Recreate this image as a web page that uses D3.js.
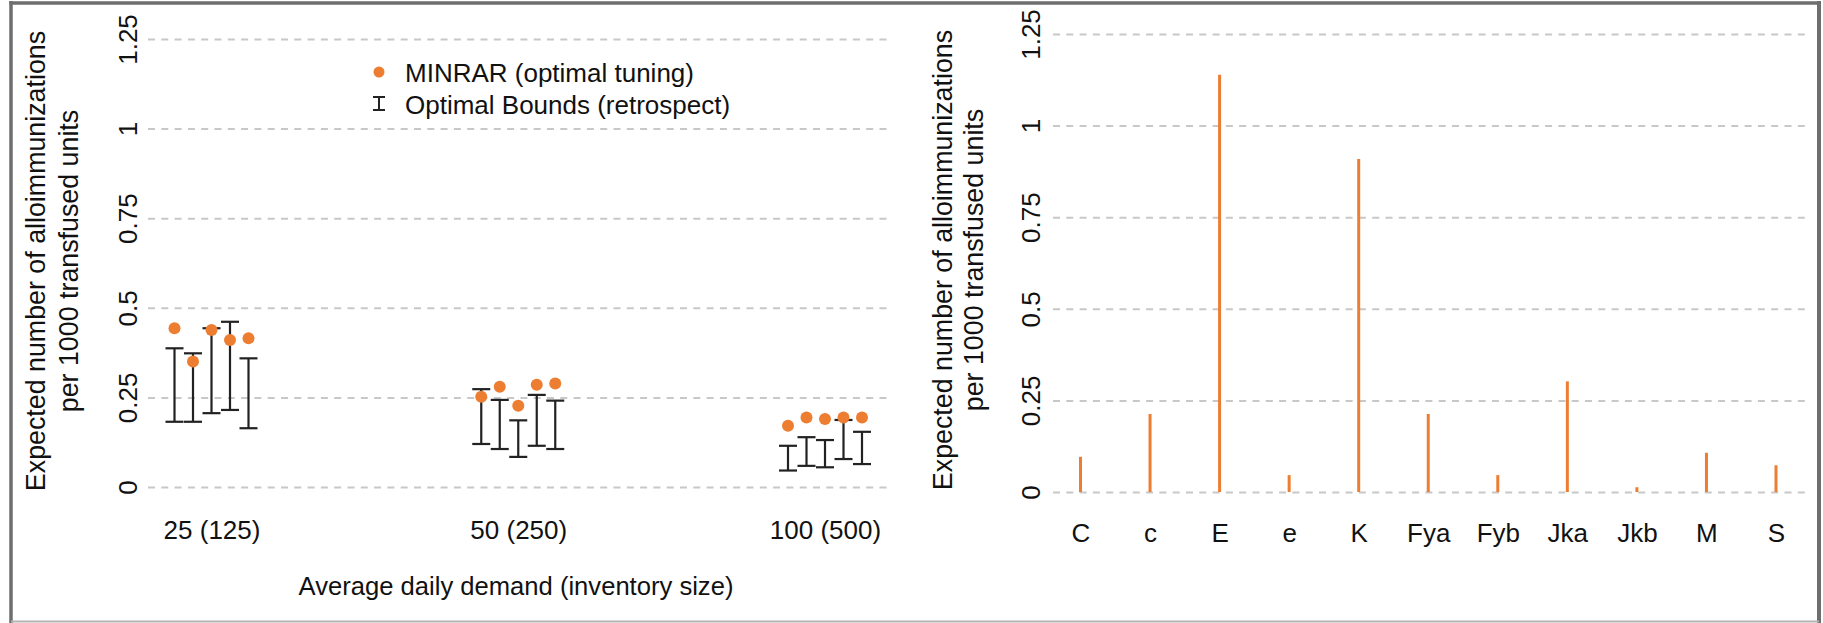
<!DOCTYPE html>
<html>
<head>
<meta charset="utf-8">
<script src="https://cdn.jsdelivr.net/npm/d3@7"></script>
<style>
  html, body { margin: 0; padding: 0; background: #fff; }
  svg { display: block; font-family: "Liberation Sans", Arial, sans-serif; }
</style>
</head>
<body>
<svg id="chart" width="1823" height="623"></svg>
<script>
// ---------- data ----------
const demandGroups = ["25 (125)", "50 (250)", "100 (500)"];
const yTicks = [0, 0.25, 0.5, 0.75, 1, 1.25];
const yTickLabels = ["0", "0.25", "0.5", "0.75", "1", "1.25"];
// MINRAR (optimal tuning), five settings per demand group
const minrar25 = [0.443, 0.350, 0.438, 0.410, 0.415];
const minrar50 = [0.252, 0.280, 0.227, 0.285, 0.289];
const minrar100 = [0.171, 0.194, 0.190, 0.194, 0.194];
// Optimal bounds (retrospect): lower and upper
const lower25 = [0.182, 0.182, 0.206, 0.215, 0.164];
const upper25 = [0.387, 0.373, 0.443, 0.461, 0.359];
const lower50 = [0.120, 0.106, 0.084, 0.115, 0.106];
const upper50 = [0.273, 0.243, 0.186, 0.257, 0.241];
const lower100 = [0.046, 0.059, 0.055, 0.078, 0.064];
const upper100 = [0.115, 0.139, 0.131, 0.187, 0.154];
// right panel
const antigens = ["C", "c", "E", "e", "K", "Fya", "Fyb", "Jka", "Jkb", "M", "S"];
const antigenRates = [0.096, 0.213, 1.139, 0.046, 0.909, 0.213, 0.046, 0.302, 0.013, 0.107, 0.073];

const yTitle1 = "Expected number of alloimmunizations";
const yTitle2 = "per 1000 transfused units";
const xTitleLeft = "Average daily demand (inventory size)";

// ---------- build ----------
const ORANGE = "#ED7D31";
const DARK = "#222222";
const GRID = "#c8c8c8";
const svg = d3.select("#chart");
svg.append("rect").attr("width", 1823).attr("height", 623).attr("fill", "#fff");

const minrarAll = [minrar25, minrar50, minrar100];
const lowerAll = [lower25, lower50, lower100];
const upperAll = [upper25, upper50, upper100];
const pts = [];
demandGroups.forEach((g, gi) => {
  minrarAll[gi].forEach((v, k) => {
    pts.push({ group: g, idx: k - 2, value: v, lo: lowerAll[gi][k], hi: upperAll[gi][k] });
  });
});

// ----- left panel -----
const L = { x0: 148, x1: 888 };
const yL = d3.scaleLinear().domain([0, 1.25]).range([487, 39]);
const xL = d3.scalePoint().domain(demandGroups).range([211.5, 825]);
const off = d3.scaleLinear().domain([-2, 2]).range([-37, 37]);

function yAxisGrid(g, scale, x0, x1, labelShift) {
  const ax = d3.axisLeft(scale).tickValues(yTicks)
    .tickFormat((d, i) => yTickLabels[i]).tickSize(-(x1 - x0)).tickPadding(0);
  g.attr("transform", `translate(${x0},0)`).call(ax);
  g.select(".domain").remove();
  g.selectAll(".tick line").attr("stroke", GRID).attr("stroke-width", 2)
    .attr("stroke-dasharray", "7,6.3");
  g.selectAll(".tick text")
    .attr("x", null).attr("dy", null).attr("y", null)
    .attr("text-anchor", "middle")
    .attr("transform", `translate(${labelShift},0) rotate(-90)`)
    .attr("fill", "#111").style("font-size", "26px")
    .style("font-family", '"Liberation Sans", Arial, sans-serif');
}

yAxisGrid(svg.append("g"), yL, L.x0, L.x1, -11);

const xAxL = svg.append("g").call(d3.axisBottom(xL).tickSize(0));
xAxL.select(".domain").remove();
xAxL.selectAll(".tick text").attr("y", 539).attr("dy", null)
  .attr("fill", "#111").style("font-size", "26px")
  .style("font-family", '"Liberation Sans", Arial, sans-serif');

// error bars
const eb = svg.append("g").attr("stroke", DARK).attr("stroke-width", 2.2).attr("fill", "none");
const cap = 9;
pts.forEach(p => {
  const cx = xL(p.group) + off(p.idx);
  eb.append("line").attr("x1", cx).attr("x2", cx).attr("y1", yL(p.lo)).attr("y2", yL(p.hi));
  eb.append("line").attr("x1", cx - cap).attr("x2", cx + cap).attr("y1", yL(p.lo)).attr("y2", yL(p.lo));
  eb.append("line").attr("x1", cx - cap).attr("x2", cx + cap).attr("y1", yL(p.hi)).attr("y2", yL(p.hi));
});
// points
svg.append("g").selectAll("circle").data(pts).join("circle")
  .attr("cx", p => xL(p.group) + off(p.idx)).attr("cy", p => yL(p.value))
  .attr("r", 6).attr("fill", ORANGE);

// legend
const lg = svg.append("g");
lg.append("circle").attr("cx", 379).attr("cy", 72).attr("r", 5.5).attr("fill", ORANGE);
lg.append("text").attr("x", 405).attr("y", 82).text("MINRAR (optimal tuning)")
  .attr("fill", "#111").style("font-size", "26px");
const li = lg.append("g").attr("stroke", DARK).attr("stroke-width", 2);
li.append("line").attr("x1", 379).attr("x2", 379).attr("y1", 97).attr("y2", 110);
li.append("line").attr("x1", 373).attr("x2", 385).attr("y1", 97).attr("y2", 97);
li.append("line").attr("x1", 373).attr("x2", 385).attr("y1", 110).attr("y2", 110);
lg.append("text").attr("x", 405).attr("y", 114).text("Optimal Bounds (retrospect)")
  .attr("fill", "#111").style("font-size", "26px");

// axis titles left
function yTitle(cx1, cx2, cy) {
  const t = svg.append("g").attr("fill", "#111").style("font-size", "26.8px").attr("text-anchor", "middle");
  t.append("text").attr("transform", `translate(${cx1},${cy}) rotate(-90)`).text(yTitle1);
  t.append("text").attr("transform", `translate(${cx2},${cy}) rotate(-90)`).text(yTitle2);
}
yTitle(45, 78, 261);
svg.append("text").attr("x", 516).attr("y", 595).attr("text-anchor", "middle")
  .attr("fill", "#111").style("font-size", "25.6px").text(xTitleLeft);

// ----- right panel -----
const R = { x0: 1053, x1: 1805 };
const yR = d3.scaleLinear().domain([0, 1.25]).range([492, 34]);
const xR = d3.scalePoint().domain(antigens).range([1080.5, 1776]);
yAxisGrid(svg.append("g"), yR, R.x0, R.x1, -13);

const xAxR = svg.append("g").call(d3.axisBottom(xR).tickSize(0));
xAxR.select(".domain").remove();
xAxR.selectAll(".tick text").attr("y", 542).attr("dy", null)
  .attr("fill", "#111").style("font-size", "26px")
  .style("font-family", '"Liberation Sans", Arial, sans-serif');

svg.append("g").selectAll("line").data(antigens).join("line")
  .attr("x1", d => xR(d)).attr("x2", d => xR(d))
  .attr("y1", yR(0)).attr("y2", (d, i) => yR(antigenRates[i]))
  .attr("stroke", ORANGE).attr("stroke-width", 3);

yTitle(952, 983, 260);

// ----- frame -----
const fr = svg.append("g").attr("fill", "none");
fr.append("line").attr("x1", 9.5).attr("x2", 1820).attr("y1", 3).attr("y2", 3).attr("stroke", "#6e6e6e").attr("stroke-width", 3.5);
fr.append("line").attr("x1", 11).attr("x2", 11).attr("y1", 1).attr("y2", 623).attr("stroke", "#6e6e6e").attr("stroke-width", 3.5);
fr.append("line").attr("x1", 1819).attr("x2", 1819).attr("y1", 1).attr("y2", 623).attr("stroke", "#6e6e6e").attr("stroke-width", 4);
fr.append("line").attr("x1", 11).attr("x2", 1819).attr("y1", 621.5).attr("y2", 621.5).attr("stroke", "#b4b4b4").attr("stroke-width", 2);
</script>
</body>
</html>
